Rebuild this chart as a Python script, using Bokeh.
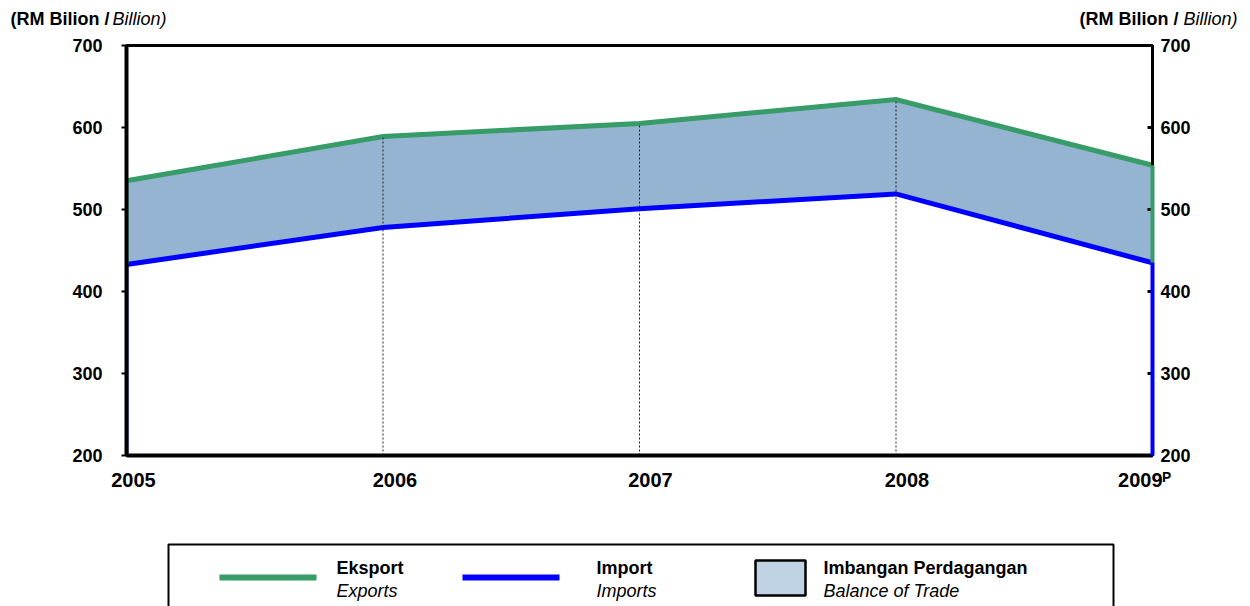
from bokeh.plotting import figure
from bokeh.layouts import column
from bokeh.models import (Range1d, LinearAxis, FixedTicker, CustomJSTickFormatter)
from bokeh.core.properties import value
from bokeh.embed import file_html
from bokeh.resources import INLINE

# ---------------- data ----------------
years = [2005, 2006, 2007, 2008, 2009]
year_labels = ["2005", "2006", "2007", "2008", "2009"]
exports = [535, 589, 605, 634, 554]   # RM billion
imports = [433, 478, 501, 519, 435]   # RM billion
y_ticks = [200, 300, 400, 500, 600, 700]
unit_bold = "(RM Bilion /"
unit_italic = "Billion)"
legend_bold = ["Eksport", "Import", "Imbangan Perdagangan"]
legend_italic = ["Exports", "Imports", "Balance of Trade"]
prelim_mark = "\u1D3E"   # superscript P (preliminary)

# ---------------- style ----------------
GREEN = "#389C68"
BLUE = "#0000FF"
FILL = "#94B4D1"
SWATCH = "#C0D3E4"
FONT = "Liberation Sans"
year_label_shift_px = [7, 12, 11, 11, -8]

W = 1250
H_TOP, H_MAIN, H_LEG = 35, 475, 96
FL, FR, FT, FB = 126, W - 1152, 10, 55
LEG_Y0 = H_TOP + H_MAIN
ymin, ymax = y_ticks[0], y_ticks[-1]
frame_w = W - FL - FR


def strip(h):
    f = figure(width=W, height=h, x_range=Range1d(0, W), y_range=Range1d(h, 0),
               x_axis_type=None, y_axis_type=None, output_backend="svg",
               toolbar_location=None, min_border=0, min_border_left=0,
               min_border_right=0, min_border_top=0, min_border_bottom=0,
               frame_align=False)
    f.outline_line_color = None
    f.background_fill_color = "white"
    f.border_fill_color = "white"
    f.grid.visible = False
    return f


def txt(f, x, y, t, style, size, align="left"):
    f.text(x=[x], y=[y], text=[t], text_align=align, text_baseline="middle",
           text_font=value(FONT), text_font_style=style, text_font_size=size,
           text_color="black")


# ---------------- unit titles strip ----------------
top = strip(H_TOP)
txt(top, 10, 18, unit_bold, "bold", "18px")
txt(top, 112, 18, unit_italic, "italic", "18px")
txt(top, 1178, 18, unit_bold, "bold", "18px", align="right")
txt(top, 1183, 18, unit_italic, "italic", "18px")

# ---------------- main chart ----------------
p = figure(width=W, height=H_MAIN,
           x_range=Range1d(years[0], years[-1]),
           y_range=Range1d(ymin, ymax),
           x_axis_type=None, y_axis_type=None,
           output_backend="svg", toolbar_location=None,
           min_border_left=FL, min_border_right=FR,
           min_border_top=FT, min_border_bottom=FB, frame_align=False)
p.background_fill_color = "white"
p.border_fill_color = "white"
p.outline_line_color = "black"
p.outline_line_width = 3

common = dict(minor_tick_line_color=None,
              major_label_text_font=FONT,
              major_label_text_font_style="bold",
              major_label_text_font_size="18px",
              major_label_text_color="black")
left = LinearAxis(ticker=FixedTicker(ticks=y_ticks), axis_line_width=4,
                  major_tick_out=5, major_tick_in=0, major_tick_line_width=2,
                  major_label_standoff=19, **common)
p.add_layout(left, "left")

p.extra_y_ranges = {"right": Range1d(ymin, ymax)}
right = LinearAxis(y_range_name="right", ticker=FixedTicker(ticks=y_ticks),
                   axis_line_width=3, major_tick_out=0, major_tick_in=5,
                   major_tick_line_width=3, major_label_standoff=8, **common)
p.add_layout(right, "right")

span = years[-1] - years[0]
x_tick_pos = [y + s * span / frame_w for y, s in zip(years, year_label_shift_px)]
shown_labels = year_labels[:-1] + [year_labels[-1] + prelim_mark]
fmt = CustomJSTickFormatter(args=dict(years=years, labels=shown_labels), code="""
    let best = 0;
    for (let k = 0; k < years.length; k++) {
        if (Math.abs(years[k] - tick) < Math.abs(years[best] - tick)) best = k;
    }
    return labels[best];
""")
bottom = LinearAxis(ticker=FixedTicker(ticks=x_tick_pos), formatter=fmt,
                    axis_line_width=4, major_tick_out=0, major_tick_in=0,
                    major_tick_line_color=None, minor_tick_line_color=None,
                    major_label_standoff=13,
                    major_label_text_font=FONT, major_label_text_font_style="bold",
                    major_label_text_font_size="20px", major_label_text_color="black")
p.add_layout(bottom, "below")

p.varea(x=years, y1=imports, y2=exports, fill_color=FILL)
p.line(years, exports, line_color=GREEN, line_width=5, line_join="miter")
p.line(years, imports, line_color=BLUE, line_width=5, line_join="miter")
p.segment(x0=years, y0=[ymin] * len(years), x1=years, y1=exports,
          line_color="#222222", line_width=1, line_dash="2 2")
for idx, lvl in ((0, "glyph"), (-1, "overlay")):
    p.segment(x0=[years[idx]] * 2, y0=[imports[idx], ymin],
              x1=[years[idx]] * 2, y1=[exports[idx], imports[idx]],
              line_color=[GREEN, BLUE], line_width=4, level=lvl)

# ---------------- legend strip (coordinates in page pixels) ----------------
leg = strip(H_LEG)
leg.quad(left=[168], right=[1113], top=[544 - LEG_Y0], bottom=[H_LEG + 40],
         fill_color=None, line_color="black", line_width=2)
leg.segment(x0=[219, 462], y0=[577 - LEG_Y0] * 2, x1=[316, 559],
            y1=[577 - LEG_Y0] * 2, line_color=[GREEN, BLUE], line_width=6)
leg.quad(left=[755], right=[805], top=[560 - LEG_Y0], bottom=[595 - LEG_Y0],
         fill_color=SWATCH, line_color="black", line_width=2.5)
for x0, b, it in zip([336, 596, 823], legend_bold, legend_italic):
    txt(leg, x0, 567 - LEG_Y0, b, "bold", "18px")
    txt(leg, x0, 590 - LEG_Y0, it, "italic", "18px")

layout = column(top, p, leg, spacing=0)
open("out.html", "w").write(file_html(layout, INLINE))
